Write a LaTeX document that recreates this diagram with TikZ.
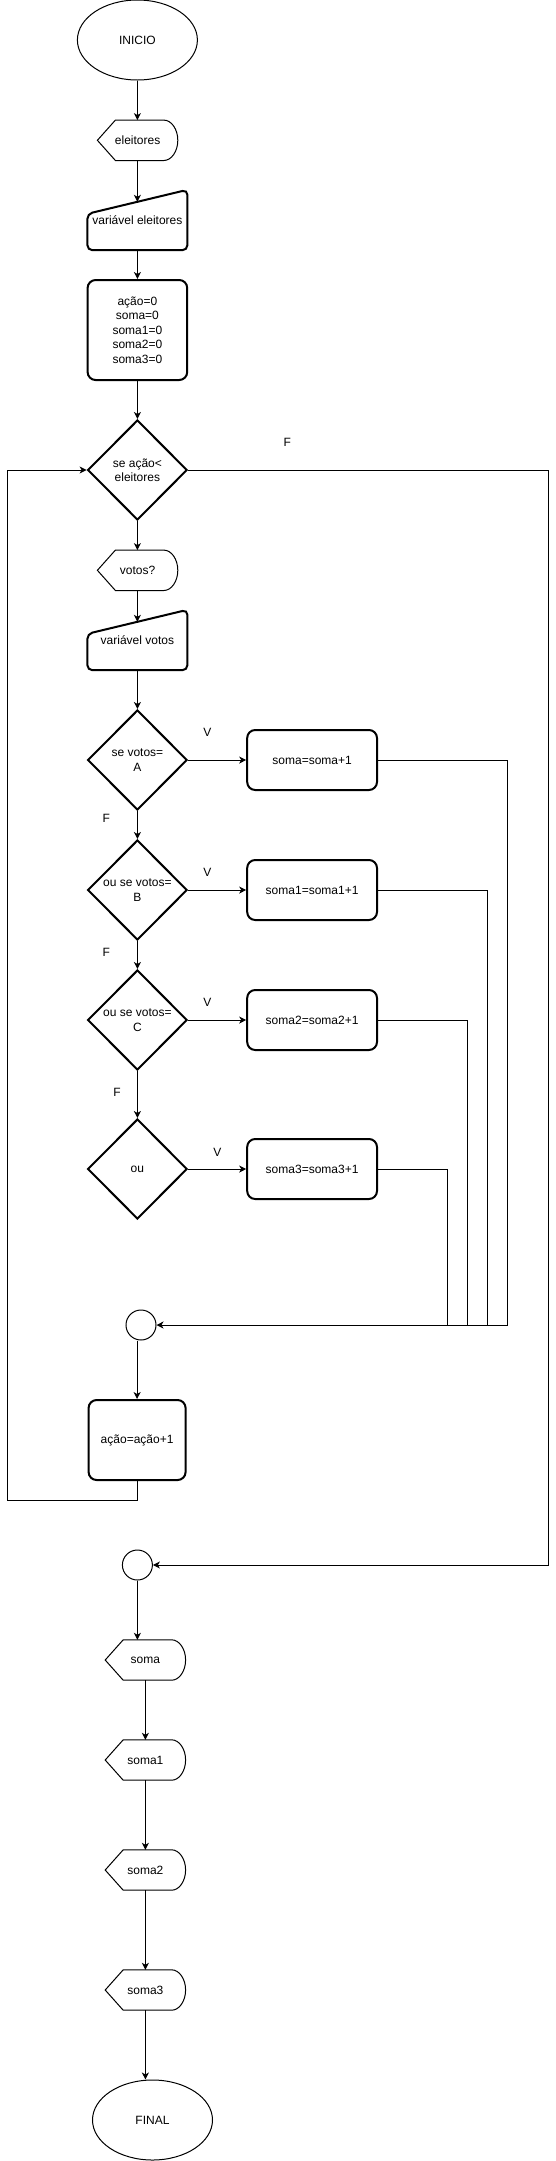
\documentclass[tikz,border=0pt]{standalone}
\usepackage{fontspec}
\setmainfont{Liberation Sans}
\usetikzlibrary{arrows.meta,shapes.geometric,calc}
\newcommand{\dispshape}[4]{%
  \node (#1) at (#2,#3) [minimum width=80pt, minimum height=40pt] {#4};
  \draw[line width=1pt] (#1.west) -- ($(#1.north west)+(18,0)$) -- ($(#1.north east)+(-14,0)$)
    .. controls ($(#1.north east)+(-6.3,0)$) and ($(#1.east)+(0,-11)$) .. (#1.east)
    .. controls ($(#1.east)+(0,11)$) and ($(#1.south east)+(-6.3,0)$) .. ($(#1.south east)+(-14,0)$)
    -- ($(#1.south west)+(18,0)$) -- cycle;
}
\newcommand{\maninput}[4]{%
  \node (#1) at (#2,#3) [minimum width=99.6pt, minimum height=60pt] {#4};
  \draw[line width=2pt, rounded corners=5pt] (#1.south west) -- ($(#1.north west)+(0,24)$) -- (#1.north east) -- (#1.south east) -- cycle;
  \coordinate (#1top) at ($(#1.north)+(0,12)$);
}
\begin{document}
\begin{tikzpicture}[x=1pt,y=-1pt,
  every node/.style={font=\fontsize{12}{14.4}\selectfont, inner sep=0pt, align=center},
  conn/.style={line width=1pt},
  arr/.style={conn,-{Stealth[length=7pt,width=7pt,inset=2pt]}},
  thickbox/.style={draw, line width=2pt, rounded corners=8pt, rectangle},
  dia/.style={draw, line width=2pt, diamond, minimum width=99.6pt, minimum height=100pt},
  term/.style={draw, line width=1pt, ellipse, minimum width=120pt, minimum height=80pt},
  joint/.style={draw, line width=1pt, circle, minimum size=30pt}
]
\useasboundingbox (0,0) rectangle (556,2161);

% main column
\node[term] (ini) at (137.4,40) {INICIO};
\dispshape{el}{137.6}{140.3}{eleitores}
\maninput{mi1}{137.4}{220}{variável eleitores}
\node[thickbox, minimum width=99.6pt, minimum height=100pt] (init) at (137.4,330) {ação=0\\soma=0\\soma1=0\\soma2=0\\soma3=0};
\node[dia] (d1) at (137.4,470) {se ação<\\eleitores};
\dispshape{vot}{137.6}{570.3}{votos?}
\maninput{mi2}{137.4}{640}{variável votos}
\node[dia] (dA) at (137.4,760) {se votos=\\A};
\node[dia] (dB) at (137.4,890) {ou se votos=\\B};
\node[dia] (dC) at (137.4,1020) {ou se votos=\\C};
\node[dia] (dD) at (137.4,1169) {ou};

\node[thickbox, minimum width=129.8pt, minimum height=60pt] (bA) at (312.1,760) {soma=soma+1};
\node[thickbox, minimum width=129.8pt, minimum height=60pt] (bB) at (312.1,890) {soma1=soma1+1};
\node[thickbox, minimum width=129.8pt, minimum height=60pt] (bC) at (312.1,1020) {soma2=soma2+1};
\node[thickbox, minimum width=129.8pt, minimum height=60pt] (bD) at (312.1,1169) {soma3=soma3+1};

\node[joint] (c1) at (141,1325) {};
\node[thickbox, minimum width=97pt, minimum height=80pt] (inc) at (137.1,1440) {ação=ação+1};
\node[joint] (c2) at (137.4,1565) {};

\dispshape{s0}{145.4}{1660}{soma}
\dispshape{s1}{145.4}{1760}{soma1}
\dispshape{s2}{145.4}{1870}{soma2}
\dispshape{s3}{145.4}{1990}{soma3}
\node[term] (fin) at (152.5,2120) {FINAL};

% labels
\node (lF0) at (287.2,442.7) {F};
\node (lVA) at (207.4,732.7) {V};
\node (lVB) at (207.4,872.7) {V};
\node (lVC) at (207.4,1002.7) {V};
\node (lVD) at (217.4,1152.7) {V};
\node (lFA) at (106.4,818.3) {F};
\node (lFB) at (106.4,952.7) {F};
\node (lFC) at (117,1092.7) {F};

% coordinates
\coordinate (jA) at (507.8,1325);
\coordinate (jB) at (487.8,1325);
\coordinate (jC) at (467.8,1325);
\coordinate (jD) at (447.8,1325);
\coordinate (lp) at (7.8,1500);
\coordinate (rt) at (548,470);

% connectors
\draw[arr] (ini) -- (ini |- el.north);
\draw[arr] (el.south -| ini) -- (mi1top);
\draw[arr] (mi1) -- (init);
\draw[arr] (init) -- (d1);
\draw[arr] (d1) -- (d1 |- vot.north);
\draw[arr] (vot.south -| d1) -- (mi2top);
\draw[arr] (mi2) -- (dA);
\draw[arr] (dA) -- (dB);
\draw[arr] (dB) -- (dC);
\draw[arr] (dC) -- (dD);
\draw[arr] (dA) -- (bA);
\draw[arr] (dB) -- (bB);
\draw[arr] (dC) -- (bC);
\draw[arr] (dD) -- (bD);
\draw[conn] (bA.east) -| (jA);
\draw[conn] (bB.east) -| (jB);
\draw[conn] (bC.east) -| (jC);
\draw[conn] (bD.east) -| (jD);
\draw[arr] (jA) -- (c1.east);
\draw[arr] (c1.south -| inc.north) -- (inc.north);
\draw[arr] (inc.south) |- (lp) |- (d1.west);
\draw[arr] (d1.east) -- (rt) |- (c2.east);
\draw[arr] (c2.south) -- (c2.south |- s0.north);
\draw[arr] (s0) -- (s1);
\draw[arr] (s1) -- (s2);
\draw[arr] (s2) -- (s3);
\draw[arr] (s3.south) -- (s3.south |- fin.north);
\end{tikzpicture}
\end{document}
